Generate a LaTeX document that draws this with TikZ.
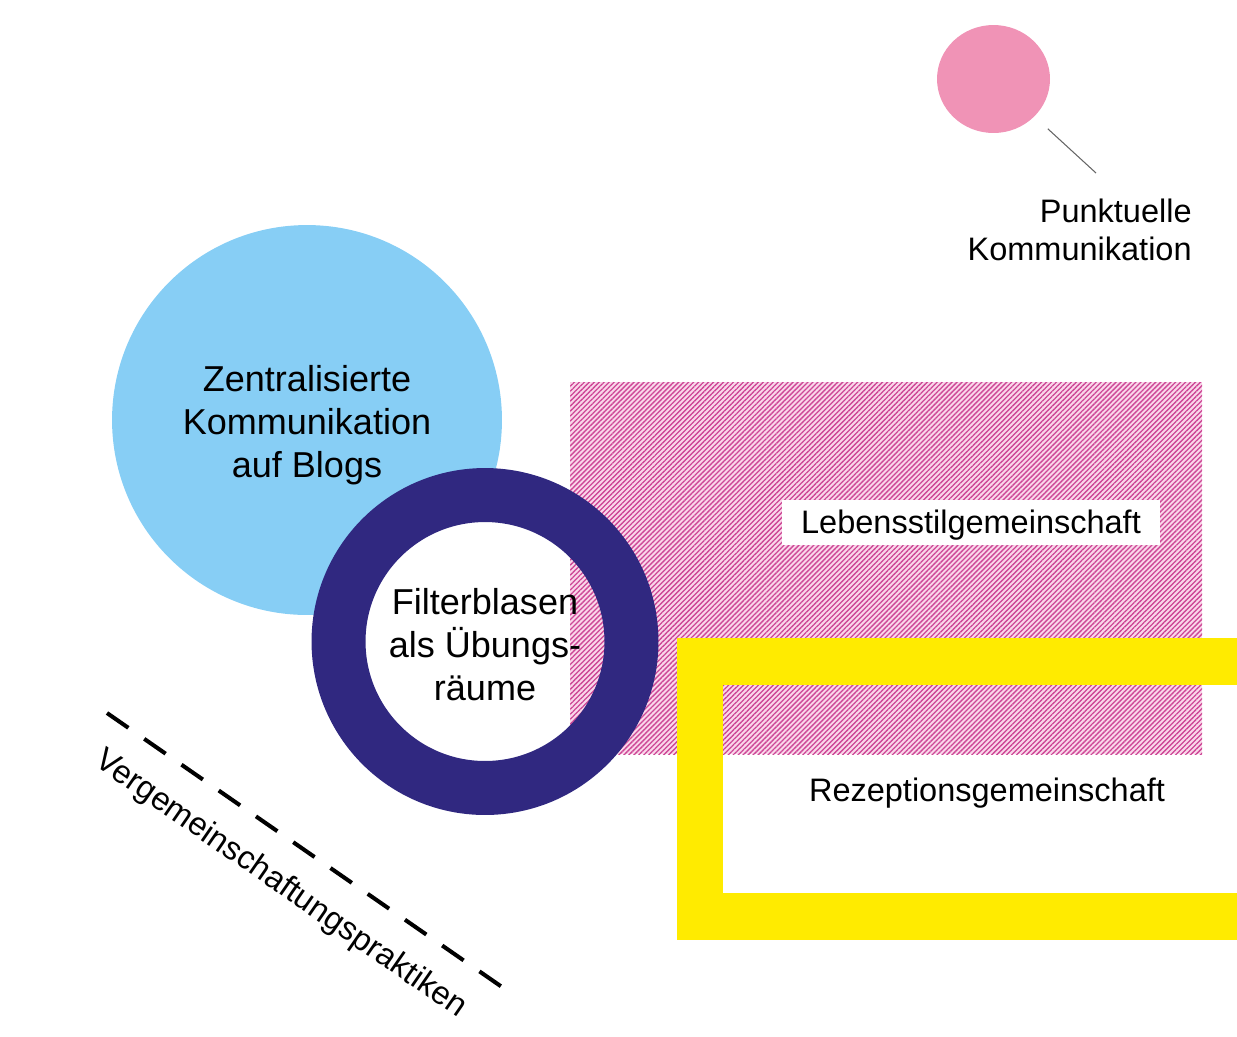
\documentclass[tikz,border=0pt]{standalone}
\usepackage{fontspec}
\setmainfont{Liberation Sans}
\usepackage{tikz}
\usetikzlibrary{shapes.geometric, patterns.meta}
\definecolor{blogblue}{RGB}{135,206,245}
\definecolor{ringblue}{RGB}{48,40,128}
\definecolor{dotpink}{RGB}{240,147,182}
\definecolor{hatchpink}{RGB}{205,70,150}
\definecolor{hatchbg}{RGB}{250,215,234}
\definecolor{frameyellow}{RGB}{255,235,0}

\begin{document}
\begin{tikzpicture}[x=0.02cm, y=-0.02cm,
  bigtext/.style={font=\fontsize{20.5}{24.5}\selectfont, align=center, inner sep=0pt},
  smalltext/.style={font=\fontsize{18.5}{22}\selectfont, inner sep=0pt}]
\useasboundingbox (0,0) rectangle (1237,1036);
\node[circle, fill=blogblue, minimum size=7.8cm, inner sep=0pt] (blogs) at (307,420) {};
\fill[white] (485,641.5) circle[radius=120];
\fill[hatchbg] (570,382) rectangle (1202,754);
\fill[pattern={Lines[angle=45, distance=2pt, line width=0.75pt]}, pattern color=hatchpink] (570,382) rectangle (1202,754);
\node[circle, draw=ringblue, line width=1.08cm, minimum size=5.86cm, inner sep=0pt] (ring) at (485,641.5) {};
\draw[frameyellow, line width=0.93cm, line join=miter] (1245,661.5) -- (700,661.5) -- (700,916.5) -- (1245,916.5);
\node[smalltext, fill=white, minimum width=7.56cm, minimum height=0.9cm] (lebensstil) at (971,522) {};
\node[smalltext] (lebenstext) at (971,525) {Lebensstilgemeinschaft};
\node[smalltext] (rezeption) at (987,793) {Rezeptionsgemeinschaft};
\node[bigtext] (blogtext) at (307,425) {Zentralisierte\\Kommunikation\\auf Blogs};
\node[bigtext] (filter) at (485,645) {Filterblasen\\als Übungs-\\räume};
\node[ellipse, fill=dotpink, minimum width=2.26cm, minimum height=2.16cm, inner sep=0pt] (dot) at (993.5,79) {};
\node[smalltext, align=right, anchor=east] (punktuell) at (1192,230) {Punktuelle\\Kommunikation};
\coordinate (dottip) at (1096,173);
\draw[black!60, line width=0.6pt, shorten <=0.36cm] (dot) -- (dottip);
\coordinate (praxA) at (107,713);
\coordinate (praxB) at (502,987);
\draw[line width=2.3pt, dash pattern=on 14.8pt off 11pt] (praxA) -- (praxB) node[midway, sloped, below=0.5cm, smalltext] (praxis) {Vergemeinschaftungspraktiken};
\end{tikzpicture}
\end{document}
